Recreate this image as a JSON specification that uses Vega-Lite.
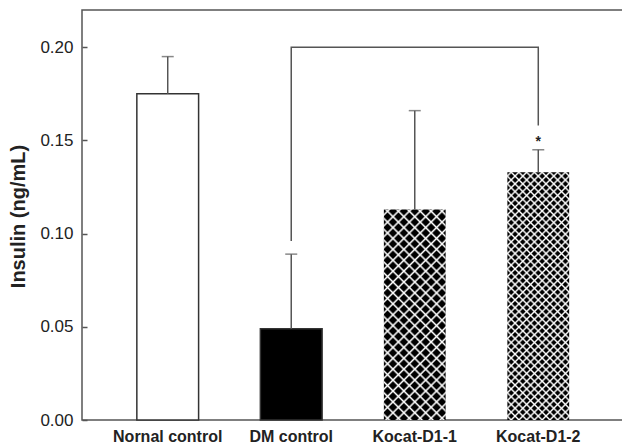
{
  "$schema": "https://vega.github.io/schema/vega-lite/v6.json",
  "width": 542,
  "height": 410,
  "autosize": {"type": "none"},
  "padding": {"left": 82, "top": 10, "right": 0, "bottom": 28},
  "background": "white",
  "config": {
    "font": "Liberation Sans",
    "view": {"stroke": "#555", "strokeWidth": 1.5},
    "axisY": {
      "tickCount": 5,
      "format": ".2f",
      "domain": false,
      "grid": false,
      "tickSize": -5,
      "tickColor": "#555",
      "tickWidth": 1.5,
      "labelFontSize": 17,
      "labelColor": "#222",
      "labelPadding": 14,
      "titleFontSize": 20,
      "titleFontWeight": "bold",
      "titleColor": "#222",
      "titleX": -64,
      "titleY": 206,
      "titleAngle": -90,
      "titleBaseline": "middle",
      "titleAlign": "center"
    },
    "axisX": {
      "domain": false,
      "ticks": false,
      "grid": false,
      "labelAngle": 0,
      "labelFontSize": 16,
      "labelFontWeight": "bold",
      "labelColor": "#222",
      "labelPadding": 8
    }
  },
  "data": {
    "values": [
      {"group": "Nornal control", "mean": 0.175, "err": 0.195},
      {"group": "DM control", "mean": 0.049, "err": 0.089},
      {"group": "Kocat-D1-1", "mean": 0.113, "err": 0.166},
      {"group": "Kocat-D1-2", "mean": 0.133, "err": 0.145}
    ]
  },
  "encoding": {
    "x": {
      "field": "group",
      "type": "nominal",
      "title": null,
      "sort": ["Nornal control", "DM control", "Kocat-D1-1", "Kocat-D1-2"],
      "scale": {"domain": ["Nornal control", "DM control", "Kocat-D1-1", "Kocat-D1-2"], "paddingInner": 0.5, "paddingOuter": 0.444}
    }
  },
  "layer": [
    {
      "transform": [{"filter": {"field": "group", "oneOf": ["Nornal control", "DM control"]}}],
      "mark": {"type": "bar", "stroke": "#333", "strokeWidth": 1.5},
      "encoding": {
        "y": {"field": "mean", "type": "quantitative", "title": "Insulin (ng/mL)", "scale": {"domain": [0, 0.22], "nice": false}},
        "fill": {"field": "group", "type": "nominal", "scale": {"domain": ["Nornal control", "DM control"], "range": ["#ffffff", "#000000"]}, "legend": null}
      }
    },
    {
      "transform": [{"filter": {"field": "group", "equal": "Kocat-D1-1"}}],
      "mark": {"type": "bar", "strokeWidth": 0, "fill": {"gradient": "linear", "x1": 0, "y1": 0, "x2": 0.34924, "y2": 1.19085, "stops": [
        {"offset":0.012,"color":"#000"},{"offset":0.02,"color":"#fff"},{"offset":0.028,"color":"#000"},
        {"offset":0.052,"color":"#000"},{"offset":0.06,"color":"#fff"},{"offset":0.068,"color":"#000"},
        {"offset":0.092,"color":"#000"},{"offset":0.1,"color":"#fff"},{"offset":0.108,"color":"#000"},
        {"offset":0.132,"color":"#000"},{"offset":0.14,"color":"#fff"},{"offset":0.148,"color":"#000"},
        {"offset":0.172,"color":"#000"},{"offset":0.18,"color":"#fff"},{"offset":0.188,"color":"#000"},
        {"offset":0.212,"color":"#000"},{"offset":0.22,"color":"#fff"},{"offset":0.228,"color":"#000"},
        {"offset":0.252,"color":"#000"},{"offset":0.26,"color":"#fff"},{"offset":0.268,"color":"#000"},
        {"offset":0.292,"color":"#000"},{"offset":0.3,"color":"#fff"},{"offset":0.308,"color":"#000"},
        {"offset":0.332,"color":"#000"},{"offset":0.34,"color":"#fff"},{"offset":0.348,"color":"#000"},
        {"offset":0.372,"color":"#000"},{"offset":0.38,"color":"#fff"},{"offset":0.388,"color":"#000"},
        {"offset":0.412,"color":"#000"},{"offset":0.42,"color":"#fff"},{"offset":0.428,"color":"#000"},
        {"offset":0.452,"color":"#000"},{"offset":0.46,"color":"#fff"},{"offset":0.468,"color":"#000"},
        {"offset":0.492,"color":"#000"},{"offset":0.5,"color":"#fff"},{"offset":0.508,"color":"#000"},
        {"offset":0.532,"color":"#000"},{"offset":0.54,"color":"#fff"},{"offset":0.548,"color":"#000"},
        {"offset":0.572,"color":"#000"},{"offset":0.58,"color":"#fff"},{"offset":0.588,"color":"#000"},
        {"offset":0.612,"color":"#000"},{"offset":0.62,"color":"#fff"},{"offset":0.628,"color":"#000"},
        {"offset":0.652,"color":"#000"},{"offset":0.66,"color":"#fff"},{"offset":0.668,"color":"#000"},
        {"offset":0.692,"color":"#000"},{"offset":0.7,"color":"#fff"},{"offset":0.708,"color":"#000"},
        {"offset":0.732,"color":"#000"},{"offset":0.74,"color":"#fff"},{"offset":0.748,"color":"#000"},
        {"offset":0.772,"color":"#000"},{"offset":0.78,"color":"#fff"},{"offset":0.788,"color":"#000"},
        {"offset":0.812,"color":"#000"},{"offset":0.82,"color":"#fff"},{"offset":0.828,"color":"#000"},
        {"offset":0.852,"color":"#000"},{"offset":0.86,"color":"#fff"},{"offset":0.868,"color":"#000"},
        {"offset":0.892,"color":"#000"},{"offset":0.9,"color":"#fff"},{"offset":0.908,"color":"#000"},
        {"offset":0.932,"color":"#000"},{"offset":0.94,"color":"#fff"},{"offset":0.948,"color":"#000"},
        {"offset":0.972,"color":"#000"},{"offset":0.98,"color":"#fff"},{"offset":0.988,"color":"#000"}
      ]}},
      "encoding": {"y": {"field": "mean", "type": "quantitative", "title": "Insulin (ng/mL)"}}
    },
    {
      "transform": [{"filter": {"field": "group", "equal": "Kocat-D1-1"}}],
      "mark": {"type": "bar", "strokeWidth": 0, "fill": {"gradient": "linear", "x1": 0, "y1": 1, "x2": 0.34924, "y2": -0.19085, "stops": [
        {"offset":0.012,"color":"rgba(255,255,255,0)"},{"offset":0.02,"color":"#fff"},{"offset":0.028,"color":"rgba(255,255,255,0)"},
        {"offset":0.052,"color":"rgba(255,255,255,0)"},{"offset":0.06,"color":"#fff"},{"offset":0.068,"color":"rgba(255,255,255,0)"},
        {"offset":0.092,"color":"rgba(255,255,255,0)"},{"offset":0.1,"color":"#fff"},{"offset":0.108,"color":"rgba(255,255,255,0)"},
        {"offset":0.132,"color":"rgba(255,255,255,0)"},{"offset":0.14,"color":"#fff"},{"offset":0.148,"color":"rgba(255,255,255,0)"},
        {"offset":0.172,"color":"rgba(255,255,255,0)"},{"offset":0.18,"color":"#fff"},{"offset":0.188,"color":"rgba(255,255,255,0)"},
        {"offset":0.212,"color":"rgba(255,255,255,0)"},{"offset":0.22,"color":"#fff"},{"offset":0.228,"color":"rgba(255,255,255,0)"},
        {"offset":0.252,"color":"rgba(255,255,255,0)"},{"offset":0.26,"color":"#fff"},{"offset":0.268,"color":"rgba(255,255,255,0)"},
        {"offset":0.292,"color":"rgba(255,255,255,0)"},{"offset":0.3,"color":"#fff"},{"offset":0.308,"color":"rgba(255,255,255,0)"},
        {"offset":0.332,"color":"rgba(255,255,255,0)"},{"offset":0.34,"color":"#fff"},{"offset":0.348,"color":"rgba(255,255,255,0)"},
        {"offset":0.372,"color":"rgba(255,255,255,0)"},{"offset":0.38,"color":"#fff"},{"offset":0.388,"color":"rgba(255,255,255,0)"},
        {"offset":0.412,"color":"rgba(255,255,255,0)"},{"offset":0.42,"color":"#fff"},{"offset":0.428,"color":"rgba(255,255,255,0)"},
        {"offset":0.452,"color":"rgba(255,255,255,0)"},{"offset":0.46,"color":"#fff"},{"offset":0.468,"color":"rgba(255,255,255,0)"},
        {"offset":0.492,"color":"rgba(255,255,255,0)"},{"offset":0.5,"color":"#fff"},{"offset":0.508,"color":"rgba(255,255,255,0)"},
        {"offset":0.532,"color":"rgba(255,255,255,0)"},{"offset":0.54,"color":"#fff"},{"offset":0.548,"color":"rgba(255,255,255,0)"},
        {"offset":0.572,"color":"rgba(255,255,255,0)"},{"offset":0.58,"color":"#fff"},{"offset":0.588,"color":"rgba(255,255,255,0)"},
        {"offset":0.612,"color":"rgba(255,255,255,0)"},{"offset":0.62,"color":"#fff"},{"offset":0.628,"color":"rgba(255,255,255,0)"},
        {"offset":0.652,"color":"rgba(255,255,255,0)"},{"offset":0.66,"color":"#fff"},{"offset":0.668,"color":"rgba(255,255,255,0)"},
        {"offset":0.692,"color":"rgba(255,255,255,0)"},{"offset":0.7,"color":"#fff"},{"offset":0.708,"color":"rgba(255,255,255,0)"},
        {"offset":0.732,"color":"rgba(255,255,255,0)"},{"offset":0.74,"color":"#fff"},{"offset":0.748,"color":"rgba(255,255,255,0)"},
        {"offset":0.772,"color":"rgba(255,255,255,0)"},{"offset":0.78,"color":"#fff"},{"offset":0.788,"color":"rgba(255,255,255,0)"},
        {"offset":0.812,"color":"rgba(255,255,255,0)"},{"offset":0.82,"color":"#fff"},{"offset":0.828,"color":"rgba(255,255,255,0)"},
        {"offset":0.852,"color":"rgba(255,255,255,0)"},{"offset":0.86,"color":"#fff"},{"offset":0.868,"color":"rgba(255,255,255,0)"},
        {"offset":0.892,"color":"rgba(255,255,255,0)"},{"offset":0.9,"color":"#fff"},{"offset":0.908,"color":"rgba(255,255,255,0)"},
        {"offset":0.932,"color":"rgba(255,255,255,0)"},{"offset":0.94,"color":"#fff"},{"offset":0.948,"color":"rgba(255,255,255,0)"},
        {"offset":0.972,"color":"rgba(255,255,255,0)"},{"offset":0.98,"color":"#fff"},{"offset":0.988,"color":"rgba(255,255,255,0)"}
      ]}},
      "encoding": {"y": {"field": "mean", "type": "quantitative", "title": "Insulin (ng/mL)"}}
    },
    {
      "transform": [{"filter": {"field": "group", "equal": "Kocat-D1-2"}}],
      "mark": {"type": "bar", "strokeWidth": 0, "fill": {"gradient": "linear", "x1": 0, "y1": 0, "x2": 0.29306, "y2": 1.17615, "stops": [
        {"offset":0.006,"color":"#000"},{"offset":0.0125,"color":"#fff"},{"offset":0.019,"color":"#000"},
        {"offset":0.031,"color":"#000"},{"offset":0.0375,"color":"#fff"},{"offset":0.044,"color":"#000"},
        {"offset":0.056,"color":"#000"},{"offset":0.0625,"color":"#fff"},{"offset":0.069,"color":"#000"},
        {"offset":0.081,"color":"#000"},{"offset":0.0875,"color":"#fff"},{"offset":0.094,"color":"#000"},
        {"offset":0.106,"color":"#000"},{"offset":0.1125,"color":"#fff"},{"offset":0.119,"color":"#000"},
        {"offset":0.131,"color":"#000"},{"offset":0.1375,"color":"#fff"},{"offset":0.144,"color":"#000"},
        {"offset":0.156,"color":"#000"},{"offset":0.1625,"color":"#fff"},{"offset":0.169,"color":"#000"},
        {"offset":0.181,"color":"#000"},{"offset":0.1875,"color":"#fff"},{"offset":0.194,"color":"#000"},
        {"offset":0.206,"color":"#000"},{"offset":0.2125,"color":"#fff"},{"offset":0.219,"color":"#000"},
        {"offset":0.231,"color":"#000"},{"offset":0.2375,"color":"#fff"},{"offset":0.244,"color":"#000"},
        {"offset":0.256,"color":"#000"},{"offset":0.2625,"color":"#fff"},{"offset":0.269,"color":"#000"},
        {"offset":0.281,"color":"#000"},{"offset":0.2875,"color":"#fff"},{"offset":0.294,"color":"#000"},
        {"offset":0.306,"color":"#000"},{"offset":0.3125,"color":"#fff"},{"offset":0.319,"color":"#000"},
        {"offset":0.331,"color":"#000"},{"offset":0.3375,"color":"#fff"},{"offset":0.344,"color":"#000"},
        {"offset":0.356,"color":"#000"},{"offset":0.3625,"color":"#fff"},{"offset":0.369,"color":"#000"},
        {"offset":0.381,"color":"#000"},{"offset":0.3875,"color":"#fff"},{"offset":0.394,"color":"#000"},
        {"offset":0.406,"color":"#000"},{"offset":0.4125,"color":"#fff"},{"offset":0.419,"color":"#000"},
        {"offset":0.431,"color":"#000"},{"offset":0.4375,"color":"#fff"},{"offset":0.444,"color":"#000"},
        {"offset":0.456,"color":"#000"},{"offset":0.4625,"color":"#fff"},{"offset":0.469,"color":"#000"},
        {"offset":0.481,"color":"#000"},{"offset":0.4875,"color":"#fff"},{"offset":0.494,"color":"#000"},
        {"offset":0.506,"color":"#000"},{"offset":0.5125,"color":"#fff"},{"offset":0.519,"color":"#000"},
        {"offset":0.531,"color":"#000"},{"offset":0.5375,"color":"#fff"},{"offset":0.544,"color":"#000"},
        {"offset":0.556,"color":"#000"},{"offset":0.5625,"color":"#fff"},{"offset":0.569,"color":"#000"},
        {"offset":0.581,"color":"#000"},{"offset":0.5875,"color":"#fff"},{"offset":0.594,"color":"#000"},
        {"offset":0.606,"color":"#000"},{"offset":0.6125,"color":"#fff"},{"offset":0.619,"color":"#000"},
        {"offset":0.631,"color":"#000"},{"offset":0.6375,"color":"#fff"},{"offset":0.644,"color":"#000"},
        {"offset":0.656,"color":"#000"},{"offset":0.6625,"color":"#fff"},{"offset":0.669,"color":"#000"},
        {"offset":0.681,"color":"#000"},{"offset":0.6875,"color":"#fff"},{"offset":0.694,"color":"#000"},
        {"offset":0.706,"color":"#000"},{"offset":0.7125,"color":"#fff"},{"offset":0.719,"color":"#000"},
        {"offset":0.731,"color":"#000"},{"offset":0.7375,"color":"#fff"},{"offset":0.744,"color":"#000"},
        {"offset":0.756,"color":"#000"},{"offset":0.7625,"color":"#fff"},{"offset":0.769,"color":"#000"},
        {"offset":0.781,"color":"#000"},{"offset":0.7875,"color":"#fff"},{"offset":0.794,"color":"#000"},
        {"offset":0.806,"color":"#000"},{"offset":0.8125,"color":"#fff"},{"offset":0.819,"color":"#000"},
        {"offset":0.831,"color":"#000"},{"offset":0.8375,"color":"#fff"},{"offset":0.844,"color":"#000"},
        {"offset":0.856,"color":"#000"},{"offset":0.8625,"color":"#fff"},{"offset":0.869,"color":"#000"},
        {"offset":0.881,"color":"#000"},{"offset":0.8875,"color":"#fff"},{"offset":0.894,"color":"#000"},
        {"offset":0.906,"color":"#000"},{"offset":0.9125,"color":"#fff"},{"offset":0.919,"color":"#000"},
        {"offset":0.931,"color":"#000"},{"offset":0.9375,"color":"#fff"},{"offset":0.944,"color":"#000"},
        {"offset":0.956,"color":"#000"},{"offset":0.9625,"color":"#fff"},{"offset":0.969,"color":"#000"},
        {"offset":0.981,"color":"#000"},{"offset":0.9875,"color":"#fff"},{"offset":0.994,"color":"#000"}
      ]}},
      "encoding": {"y": {"field": "mean", "type": "quantitative", "title": "Insulin (ng/mL)"}}
    },
    {
      "transform": [{"filter": {"field": "group", "equal": "Kocat-D1-2"}}],
      "mark": {"type": "bar", "strokeWidth": 0, "fill": {"gradient": "linear", "x1": 0, "y1": 1, "x2": 0.29306, "y2": -0.17615, "stops": [
        {"offset":0.006,"color":"rgba(255,255,255,0)"},{"offset":0.0125,"color":"#fff"},{"offset":0.019,"color":"rgba(255,255,255,0)"},
        {"offset":0.031,"color":"rgba(255,255,255,0)"},{"offset":0.0375,"color":"#fff"},{"offset":0.044,"color":"rgba(255,255,255,0)"},
        {"offset":0.056,"color":"rgba(255,255,255,0)"},{"offset":0.0625,"color":"#fff"},{"offset":0.069,"color":"rgba(255,255,255,0)"},
        {"offset":0.081,"color":"rgba(255,255,255,0)"},{"offset":0.0875,"color":"#fff"},{"offset":0.094,"color":"rgba(255,255,255,0)"},
        {"offset":0.106,"color":"rgba(255,255,255,0)"},{"offset":0.1125,"color":"#fff"},{"offset":0.119,"color":"rgba(255,255,255,0)"},
        {"offset":0.131,"color":"rgba(255,255,255,0)"},{"offset":0.1375,"color":"#fff"},{"offset":0.144,"color":"rgba(255,255,255,0)"},
        {"offset":0.156,"color":"rgba(255,255,255,0)"},{"offset":0.1625,"color":"#fff"},{"offset":0.169,"color":"rgba(255,255,255,0)"},
        {"offset":0.181,"color":"rgba(255,255,255,0)"},{"offset":0.1875,"color":"#fff"},{"offset":0.194,"color":"rgba(255,255,255,0)"},
        {"offset":0.206,"color":"rgba(255,255,255,0)"},{"offset":0.2125,"color":"#fff"},{"offset":0.219,"color":"rgba(255,255,255,0)"},
        {"offset":0.231,"color":"rgba(255,255,255,0)"},{"offset":0.2375,"color":"#fff"},{"offset":0.244,"color":"rgba(255,255,255,0)"},
        {"offset":0.256,"color":"rgba(255,255,255,0)"},{"offset":0.2625,"color":"#fff"},{"offset":0.269,"color":"rgba(255,255,255,0)"},
        {"offset":0.281,"color":"rgba(255,255,255,0)"},{"offset":0.2875,"color":"#fff"},{"offset":0.294,"color":"rgba(255,255,255,0)"},
        {"offset":0.306,"color":"rgba(255,255,255,0)"},{"offset":0.3125,"color":"#fff"},{"offset":0.319,"color":"rgba(255,255,255,0)"},
        {"offset":0.331,"color":"rgba(255,255,255,0)"},{"offset":0.3375,"color":"#fff"},{"offset":0.344,"color":"rgba(255,255,255,0)"},
        {"offset":0.356,"color":"rgba(255,255,255,0)"},{"offset":0.3625,"color":"#fff"},{"offset":0.369,"color":"rgba(255,255,255,0)"},
        {"offset":0.381,"color":"rgba(255,255,255,0)"},{"offset":0.3875,"color":"#fff"},{"offset":0.394,"color":"rgba(255,255,255,0)"},
        {"offset":0.406,"color":"rgba(255,255,255,0)"},{"offset":0.4125,"color":"#fff"},{"offset":0.419,"color":"rgba(255,255,255,0)"},
        {"offset":0.431,"color":"rgba(255,255,255,0)"},{"offset":0.4375,"color":"#fff"},{"offset":0.444,"color":"rgba(255,255,255,0)"},
        {"offset":0.456,"color":"rgba(255,255,255,0)"},{"offset":0.4625,"color":"#fff"},{"offset":0.469,"color":"rgba(255,255,255,0)"},
        {"offset":0.481,"color":"rgba(255,255,255,0)"},{"offset":0.4875,"color":"#fff"},{"offset":0.494,"color":"rgba(255,255,255,0)"},
        {"offset":0.506,"color":"rgba(255,255,255,0)"},{"offset":0.5125,"color":"#fff"},{"offset":0.519,"color":"rgba(255,255,255,0)"},
        {"offset":0.531,"color":"rgba(255,255,255,0)"},{"offset":0.5375,"color":"#fff"},{"offset":0.544,"color":"rgba(255,255,255,0)"},
        {"offset":0.556,"color":"rgba(255,255,255,0)"},{"offset":0.5625,"color":"#fff"},{"offset":0.569,"color":"rgba(255,255,255,0)"},
        {"offset":0.581,"color":"rgba(255,255,255,0)"},{"offset":0.5875,"color":"#fff"},{"offset":0.594,"color":"rgba(255,255,255,0)"},
        {"offset":0.606,"color":"rgba(255,255,255,0)"},{"offset":0.6125,"color":"#fff"},{"offset":0.619,"color":"rgba(255,255,255,0)"},
        {"offset":0.631,"color":"rgba(255,255,255,0)"},{"offset":0.6375,"color":"#fff"},{"offset":0.644,"color":"rgba(255,255,255,0)"},
        {"offset":0.656,"color":"rgba(255,255,255,0)"},{"offset":0.6625,"color":"#fff"},{"offset":0.669,"color":"rgba(255,255,255,0)"},
        {"offset":0.681,"color":"rgba(255,255,255,0)"},{"offset":0.6875,"color":"#fff"},{"offset":0.694,"color":"rgba(255,255,255,0)"},
        {"offset":0.706,"color":"rgba(255,255,255,0)"},{"offset":0.7125,"color":"#fff"},{"offset":0.719,"color":"rgba(255,255,255,0)"},
        {"offset":0.731,"color":"rgba(255,255,255,0)"},{"offset":0.7375,"color":"#fff"},{"offset":0.744,"color":"rgba(255,255,255,0)"},
        {"offset":0.756,"color":"rgba(255,255,255,0)"},{"offset":0.7625,"color":"#fff"},{"offset":0.769,"color":"rgba(255,255,255,0)"},
        {"offset":0.781,"color":"rgba(255,255,255,0)"},{"offset":0.7875,"color":"#fff"},{"offset":0.794,"color":"rgba(255,255,255,0)"},
        {"offset":0.806,"color":"rgba(255,255,255,0)"},{"offset":0.8125,"color":"#fff"},{"offset":0.819,"color":"rgba(255,255,255,0)"},
        {"offset":0.831,"color":"rgba(255,255,255,0)"},{"offset":0.8375,"color":"#fff"},{"offset":0.844,"color":"rgba(255,255,255,0)"},
        {"offset":0.856,"color":"rgba(255,255,255,0)"},{"offset":0.8625,"color":"#fff"},{"offset":0.869,"color":"rgba(255,255,255,0)"},
        {"offset":0.881,"color":"rgba(255,255,255,0)"},{"offset":0.8875,"color":"#fff"},{"offset":0.894,"color":"rgba(255,255,255,0)"},
        {"offset":0.906,"color":"rgba(255,255,255,0)"},{"offset":0.9125,"color":"#fff"},{"offset":0.919,"color":"rgba(255,255,255,0)"},
        {"offset":0.931,"color":"rgba(255,255,255,0)"},{"offset":0.9375,"color":"#fff"},{"offset":0.944,"color":"rgba(255,255,255,0)"},
        {"offset":0.956,"color":"rgba(255,255,255,0)"},{"offset":0.9625,"color":"#fff"},{"offset":0.969,"color":"rgba(255,255,255,0)"},
        {"offset":0.981,"color":"rgba(255,255,255,0)"},{"offset":0.9875,"color":"#fff"},{"offset":0.994,"color":"rgba(255,255,255,0)"}
      ]}},
      "encoding": {"y": {"field": "mean", "type": "quantitative", "title": "Insulin (ng/mL)"}}
    },
    {
      "mark": {"type": "rule", "color": "#555", "strokeWidth": 1.5},
      "encoding": {
        "y": {"field": "mean", "type": "quantitative", "title": "Insulin (ng/mL)"},
        "y2": {"field": "err"}
      }
    },
    {
      "mark": {"type": "tick", "color": "#555", "thickness": 1.5, "size": 12, "orient": "horizontal"},
      "encoding": {
        "y": {"field": "err", "type": "quantitative", "title": "Insulin (ng/mL)"}
      }
    },
    {
      "data": {"values": [
        {"group": "DM control", "y": 0.096, "o": 1},
        {"group": "DM control", "y": 0.2, "o": 2},
        {"group": "Kocat-D1-2", "y": 0.2, "o": 3},
        {"group": "Kocat-D1-2", "y": 0.158, "o": 4}
      ]},
      "mark": {"type": "line", "color": "#555", "strokeWidth": 1.5},
      "encoding": {
        "y": {"field": "y", "type": "quantitative", "title": "Insulin (ng/mL)"},
        "order": {"field": "o", "type": "quantitative"}
      }
    },
    {
      "data": {"values": [
        {"group": "Kocat-D1-2", "y": 0.147, "label": "*"}
      ]},
      "mark": {"type": "text", "fontSize": 14, "fontWeight": "bold", "color": "#222", "baseline": "alphabetic", "align": "center"},
      "encoding": {
        "y": {"field": "y", "type": "quantitative", "title": "Insulin (ng/mL)"},
        "text": {"field": "label"}
      }
    }
  ]
}
